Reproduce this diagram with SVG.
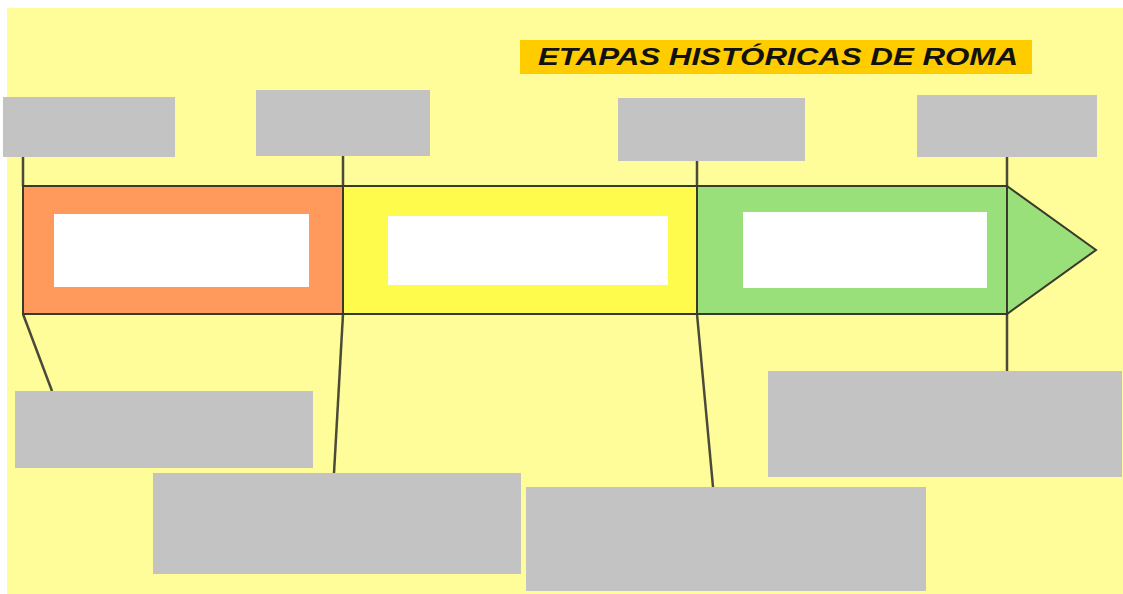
<svg xmlns="http://www.w3.org/2000/svg" width="1123" height="594" viewBox="0 0 1123 594">
<style>
.lbl{fill:#c3c3c3}
.in{fill:#ffffff}
.seg{stroke:#3a3a2a;stroke-width:2;stroke-linejoin:miter}
.con{stroke:#4a4a3a;stroke-width:2.5;fill:none}
.title{font-family:"Liberation Sans",Arial,sans-serif;font-weight:bold;font-style:italic;font-size:24px;fill:#111}
</style>
<rect x="0" y="0" width="1123" height="594" fill="#ffffff"/>
<rect x="7" y="8" width="1116" height="586" fill="#fffd99"/>
<g id="title">
<rect x="520" y="40" width="512" height="34" fill="#ffcc00"/>
<text class="title" x="538" y="65" textLength="480" lengthAdjust="spacingAndGlyphs">ETAPAS HISTÓRICAS DE ROMA</text>
</g>
<g id="connectors">
<line class="con" x1="23" y1="157" x2="23" y2="186"/>
<line class="con" x1="343" y1="156" x2="343" y2="186"/>
<line class="con" x1="697" y1="161" x2="697" y2="186"/>
<line class="con" x1="1007" y1="157" x2="1007" y2="186"/>
<line class="con" x1="23" y1="314" x2="52" y2="391"/>
<line class="con" x1="343" y1="314" x2="334" y2="473"/>
<line class="con" x1="697" y1="314" x2="713" y2="487"/>
<line class="con" x1="1007" y1="314" x2="1007" y2="371"/>
</g>
<g id="band">
<g id="seg1">
<rect class="seg" x="23" y="186" width="320" height="128" fill="#ff9a5c"/>
<rect class="in" x="54" y="214" width="255" height="73"/>
</g>
<g id="seg2">
<rect class="seg" x="343" y="186" width="354" height="128" fill="#fffb4d"/>
<rect class="in" x="388" y="216" width="280" height="69"/>
</g>
<g id="seg3">
<rect class="seg" x="697" y="186" width="310" height="128" fill="#99e07a"/>
<rect class="in" x="743" y="212" width="244" height="76"/>
</g>
<g id="arrowhead">
<polygon class="seg" points="1007,186 1096,250 1007,314" fill="#99e07a"/>
</g>
</g>
<g id="top1"><rect class="lbl" x="3" y="97" width="172" height="60"/></g>
<g id="top2"><rect class="lbl" x="256" y="90" width="174" height="66"/></g>
<g id="top3"><rect class="lbl" x="618" y="98" width="187" height="63"/></g>
<g id="top4"><rect class="lbl" x="917" y="95" width="180" height="62"/></g>
<g id="bot1"><rect class="lbl" x="15" y="391" width="298" height="77"/></g>
<g id="bot2"><rect class="lbl" x="153" y="473" width="368" height="101"/></g>
<g id="bot3"><rect class="lbl" x="526" y="487" width="400" height="104"/></g>
<g id="bot4"><rect class="lbl" x="768" y="371" width="354" height="106"/></g>
</svg>
